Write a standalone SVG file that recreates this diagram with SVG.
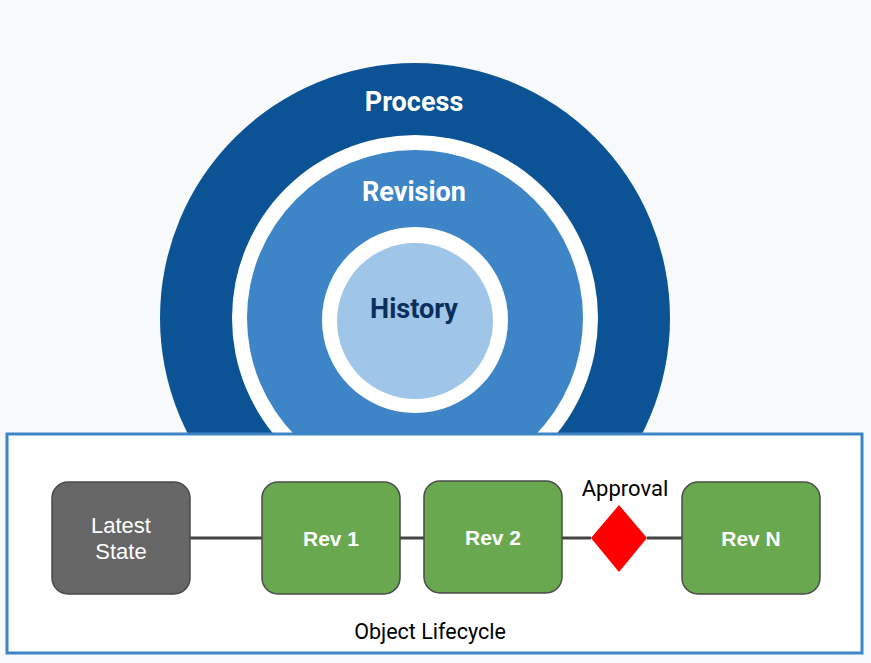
<svg xmlns="http://www.w3.org/2000/svg" width="871" height="663" viewBox="0 0 871 663">
<style>
.ring{font-family:Roboto,"Liberation Sans",sans-serif;font-weight:bold;text-anchor:middle;font-size:27px}
.box{stroke:#4a4a4a;stroke-width:1.5}
.rev{fill:#6aa84f}
.lbl{font-family:"Liberation Sans",Arial,sans-serif;text-anchor:middle;fill:#fff}
.conn{stroke:#434343;stroke-width:3;fill:none}
</style>
<rect width="871" height="663" fill="#f8f9fa"/>
<g id="process">
<circle cx="415" cy="318" r="255" fill="#0b5394"/>
<circle cx="415" cy="318" r="183" fill="#ffffff"/>
<text class="ring" x="414" y="111" fill="#ffffff">Process</text>
</g>
<g id="revision">
<circle cx="415" cy="318" r="168" fill="#3d85c6"/>
<circle cx="415" cy="320" r="93" fill="#ffffff"/>
<text class="ring" x="414" y="201" fill="#ffffff">Revision</text>
</g>
<g id="history">
<circle cx="415" cy="321" r="78" fill="#9fc5e8"/>
<text class="ring" x="414" y="318" fill="#0b2f5c">History</text>
</g>
<g id="lifecycle">
<rect x="7" y="434" width="855" height="219" fill="#ffffff" stroke="#3d85c6" stroke-width="3"/>
<text x="430" y="639" font-family="Roboto,'Liberation Sans',sans-serif" font-size="21.5" text-anchor="middle" fill="#000">Object Lifecycle</text>
</g>
<g id="connectors">
<line class="conn" x1="190" y1="538" x2="262" y2="538"/>
<line class="conn" x1="400" y1="538" x2="424" y2="538"/>
<line class="conn" x1="562" y1="538" x2="591" y2="538"/>
<line class="conn" x1="647" y1="538" x2="682" y2="538"/>
</g>
<g id="latest">
<rect class="box" x="52" y="482" width="138" height="112" rx="16" fill="#666666"/>
<text class="lbl" x="121" y="533" font-size="22">Latest</text>
<text class="lbl" x="121" y="559" font-size="22">State</text>
</g>
<g id="rev1">
<rect class="box rev" x="262" y="482" width="138" height="112" rx="16"/>
<text class="lbl" x="331" y="546" font-size="21" font-weight="bold">Rev 1</text>
</g>
<g id="rev2">
<rect class="box rev" x="424" y="481" width="138" height="112" rx="16"/>
<text class="lbl" x="493" y="545" font-size="21" font-weight="bold">Rev 2</text>
</g>
<g id="approval">
<polygon points="619,505 647,538 619,572 591,538" fill="#ff0000"/>
<text x="625" y="496" font-family="Roboto,'Liberation Sans',sans-serif" font-size="22" text-anchor="middle" fill="#000">Approval</text>
</g>
<g id="revn">
<rect class="box rev" x="682" y="482" width="138" height="112" rx="16"/>
<text class="lbl" x="751" y="546" font-size="21" font-weight="bold">Rev N</text>
</g>
</svg>
